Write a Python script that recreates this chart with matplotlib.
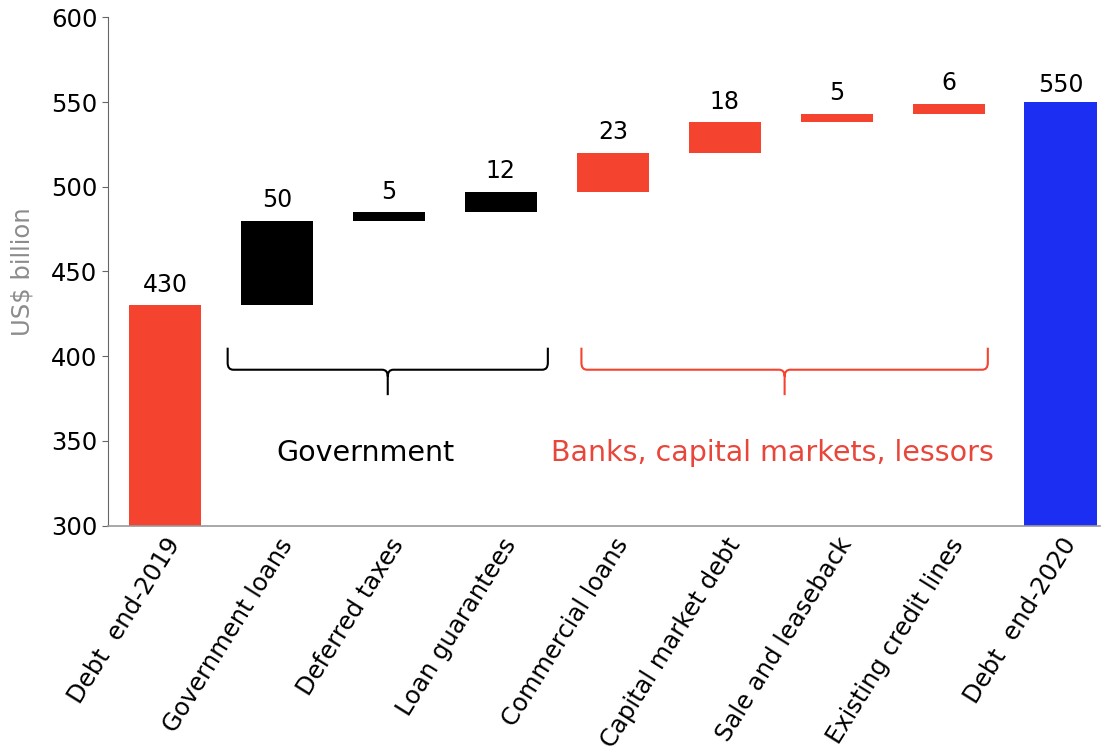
import matplotlib
matplotlib.use("Agg")
import matplotlib.pyplot as plt
import numpy as np
from matplotlib.path import Path
from matplotlib.patches import PathPatch

categories = ["Debt  end-2019", "Government loans", "Deferred taxes", "Loan guarantees",
              "Commercial loans", "Capital market debt", "Sale and leaseback",
              "Existing credit lines", "Debt  end-2020"]
start_total = 430
changes = [50, 5, 12, 23, 18, 5, 6]
end_total = 550
groups = ["gov", "gov", "gov", "bank", "bank", "bank", "bank"]

RED = "#F4432F"
BLUE = "#1C2EF2"
BLACK = "#000000"
GRAY = "#8C8C8C"

plt.rcParams["font.family"] = "DejaVu Sans"
fig = plt.figure(figsize=(11.12, 7.53), dpi=100)
ax = fig.add_axes([0.097, 0.302, 0.892, 0.675])

ymin = 300
width = 0.645
x = np.arange(len(categories))
val_fs = 17

# totals
ax.bar(x[0], start_total - ymin, bottom=ymin, width=width, color=RED)
ax.bar(x[-1], end_total - ymin, bottom=ymin, width=width, color=BLUE)
ax.text(x[0], start_total + 5, str(start_total), ha="center", va="bottom", fontsize=val_fs)
ax.text(x[-1], end_total + 3, str(end_total), ha="center", va="bottom", fontsize=val_fs)

# floating bars
bottoms = start_total + np.concatenate([[0], np.cumsum(changes)[:-1]])
for i, (b, v, g) in enumerate(zip(bottoms, changes, groups)):
    c = BLACK if g == "gov" else RED
    ax.bar(x[i + 1], v, bottom=b, width=width, color=c)
    ax.text(x[i + 1], b + v + 5, str(v), ha="center", va="bottom", fontsize=val_fs)


def brace(x0, x1, color, ytop=405, ybase=392, ytip=377):
    xc = (x0 + x1) / 2
    rx, ry = 0.05, 4
    verts = [(x0, ytop), (x0, ybase + ry), (x0, ybase), (x0 + rx, ybase),
             (xc - rx, ybase), (xc, ybase), (xc, ybase - ry), (xc, ytip),
             (xc, ybase - ry), (xc, ybase), (xc + rx, ybase),
             (x1 - rx, ybase), (x1, ybase), (x1, ybase + ry), (x1, ytop)]
    codes = [Path.MOVETO, Path.LINETO, Path.CURVE3, Path.CURVE3,
             Path.LINETO, Path.CURVE3, Path.CURVE3, Path.LINETO,
             Path.MOVETO, Path.CURVE3, Path.CURVE3,
             Path.LINETO, Path.CURVE3, Path.CURVE3, Path.LINETO]
    ax.add_patch(PathPatch(Path(verts, codes), fill=False, edgecolor=color, lw=1.5))


brace(x[1] - 0.44, x[3] + 0.42, BLACK)
brace(x[4] - 0.28, x[7] + 0.35, RED)
ax.text(1.79, 343, "Government", ha="center", va="center", fontsize=20.5, color=BLACK)
ax.text(5.43, 343, "Banks, capital markets, lessors", ha="center", va="center",
        fontsize=20.5, color="#E8463A")

ax.set_ylim(300, 600)
ax.set_xlim(-0.51, 8.35)
ax.set_yticks([300, 350, 400, 450, 500, 550, 600])
ax.tick_params(axis="y", labelsize=17.5, length=4, color="#666666")
ax.tick_params(axis="x", length=0, pad=6)
ax.set_xticks(x)
ax.set_xticklabels(categories, rotation=58, ha="right", rotation_mode="anchor", fontsize=17.5)
ax.set_ylabel("US$ billion", color=GRAY, fontsize=17.5, labelpad=12)
for s in ["top", "right"]:
    ax.spines[s].set_visible(False)
ax.spines["left"].set_color("#666666")
ax.spines["bottom"].set_color("#999999")
ax.spines["bottom"].set_linewidth(1.2)

fig.savefig("out.png", dpi=100)
